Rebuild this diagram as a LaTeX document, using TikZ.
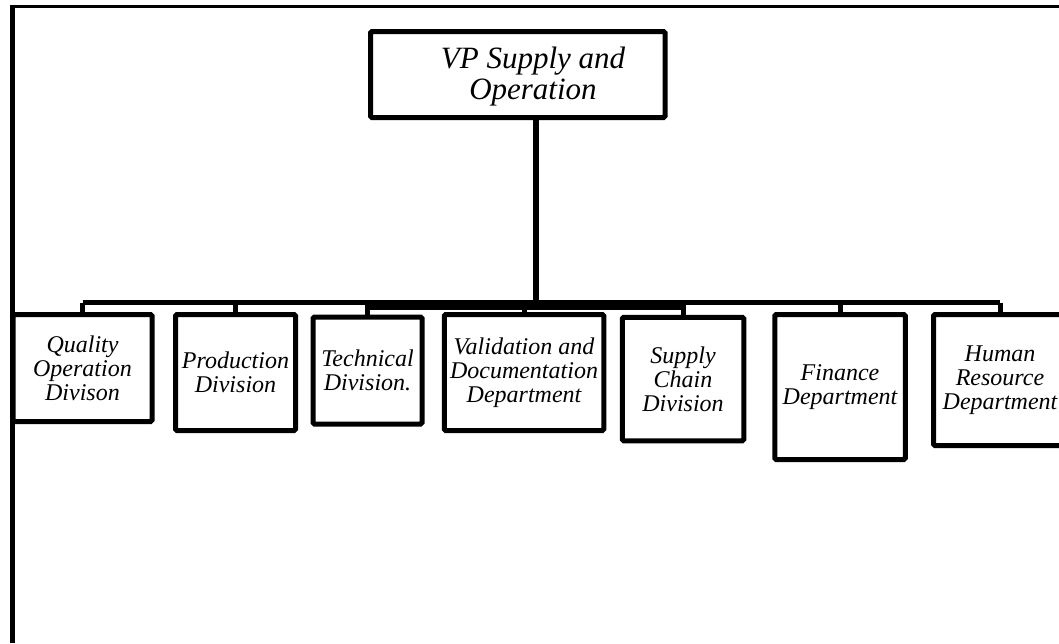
\documentclass[tikz,border=0pt]{standalone}
\usepackage{fontspec}
\setmainfont{Liberation Serif}
\usetikzlibrary{fit}
\begin{document}
\begin{tikzpicture}[x=1pt,y=-1pt,
  unitbox/.style={draw, line width=5pt, rounded corners=1.5pt, inner sep=0pt,
    align=center, font=\itshape\fontsize{24}{24}\selectfont},
  headbox/.style={draw, line width=5pt, rounded corners=1.5pt, inner sep=0pt},
  headtext/.style={align=center, font=\itshape\fontsize{31}{31}\selectfont},
  wire/.style={line width=5pt},
  trunk/.style={line width=6pt}]
\useasboundingbox (0,0) rectangle (1059,643);

% page frame (top rule and left rule)
\draw[line width=3pt] (12,6) -- (1059,6);
\draw[line width=5pt] (12.5,4.5) -- (12.5,643);

% head of the chart
\node[headtext] (vpt) at (533,77) {VP Supply and\\Operation};
\node[headbox, fit={(370.5,31.5)(665,117.5)}] (vp) {};

% units
\node[unitbox, minimum width=139pt, minimum height=107pt] (c1) at (82.5,368)
  {Quality\\Operation\\Divison};
\node[unitbox, minimum width=120pt, minimum height=116pt] (c2) at (235.5,372.5)
  {Production\\Division};
\node[unitbox, minimum width=109pt, minimum height=107pt] (c3) at (367.5,370.5)
  {Technical\\Division.};
\node[unitbox, minimum width=159.5pt, minimum height=116pt] (c4) at (524,372.5)
  {Validation and\\Documentation\\Department};
\node[unitbox, minimum width=121.5pt, minimum height=123.5pt] (c5) at (683,379)
  {Supply\\Chain\\Division};
\node[unitbox, minimum width=130.5pt, minimum height=145pt] (c6) at (840,387)
  {Finance\\Department};
\node[unitbox, minimum width=133pt, minimum height=131pt] (c7) at (1000,380)
  {Human\\Resource\\Department};

% connectors
\coordinate (bus) at (536,302.5);
\coordinate (bus2) at (536,307);
\draw[trunk] (vp.south -| bus) -- (bus);
\draw[wire] (c1.north |- bus) -- (c7.north |- bus);
\draw[wire] (c3.north |- bus2) -- (c5.north |- bus2);
\foreach \c in {c1,c2,c3,c4,c5,c6,c7}
  \draw[wire] (\c.north |- bus) -- (\c.north);
\end{tikzpicture}
\end{document}
